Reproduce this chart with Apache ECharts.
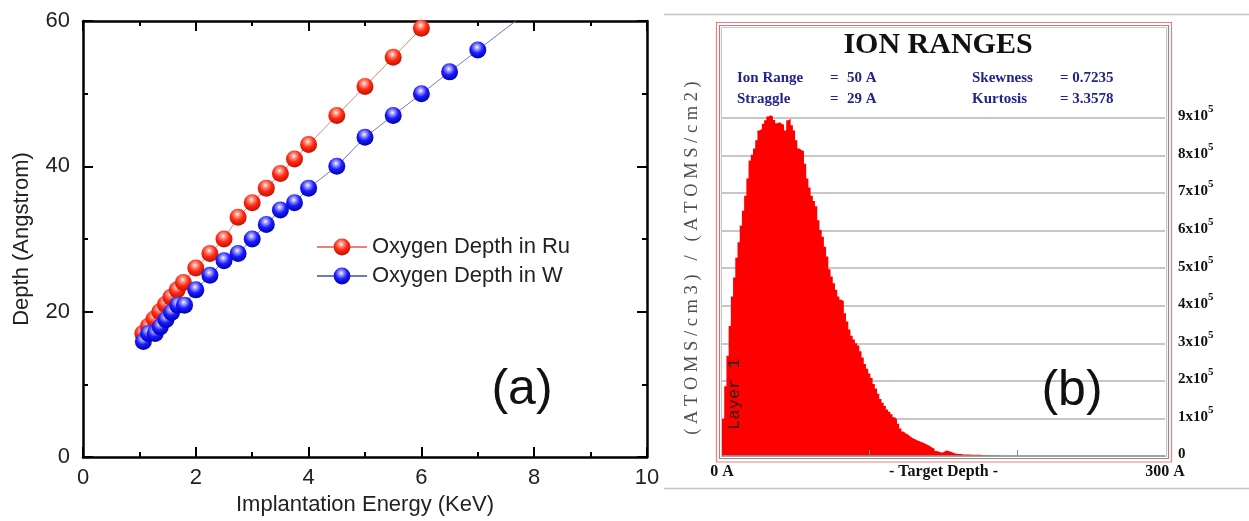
<!DOCTYPE html>
<html>
<head>
<meta charset="utf-8">
<script src="https://cdn.jsdelivr.net/npm/echarts@6.0.0/dist/echarts.min.js"></script>
<style>
  html, body { margin: 0; padding: 0; background: #fff; }
  #chart { width: 1249px; height: 521px; }
</style>
</head>
<body>
<div id="chart"></div>
<script>
// panel (a): oxygen implantation depth vs energy
const energyRu = [1.06, 1.16, 1.26, 1.36, 1.46, 1.56, 1.67, 1.78, 2.0, 2.25, 2.5, 2.75, 3.0, 3.25, 3.5, 3.75, 4.0, 4.5, 5.0, 5.5, 6.0]
const depthRu = [17, 18, 19, 20, 21, 22, 23, 24, 26, 28, 30, 33, 35, 37, 39, 41, 43, 47, 51, 55, 59]
const energyW = [1.07, 1.16, 1.28, 1.37, 1.47, 1.57, 1.68, 1.8, 2.0, 2.25, 2.5, 2.75, 3.0, 3.25, 3.5, 3.75, 4.0, 4.5, 5.0, 5.5, 6.0, 6.5, 7.0]
const depthW = [15.9, 17, 17, 17.9, 18.9, 19.9, 20.9, 20.9, 23, 25, 27, 28, 30, 32, 34, 35, 37, 40, 44, 47, 50, 53, 56]
// the W line runs on past the last marker up to the frame
const lineEndW = [7.67, 60]

// panel (b): SRIM ion range histogram, in units of 1e5 (atoms/cm3)/(atoms/cm2)
const binWidth = 1.5 // angstrom
const ionCounts = [
  0.99, 1.86, 2.67, 3.46, 4.25, 4.75, 5.28, 5.69, 6.14, 6.53,
  6.93, 7.39, 7.87, 8.02, 8.19, 8.41, 8.67, 8.71, 8.85, 8.94,
  9.04, 9.07, 9.04, 8.95, 8.86, 8.89, 8.85, 8.82, 8.67, 8.94,
  8.98, 8.81, 8.67, 8.41, 8.19, 8.14, 8.12, 7.78, 7.39, 7.15,
  6.93, 6.79, 6.65, 6.28, 6.02, 5.84, 5.57, 5.31, 4.97, 4.78,
  4.6, 4.43, 4.25, 4.16, 4.12, 3.8, 3.58, 3.37, 3.2, 3.1,
  3.0, 2.94, 2.79, 2.62, 2.45, 2.32, 2.2, 2.08, 1.92, 1.8,
  1.66, 1.52, 1.42, 1.33, 1.24, 1.18, 1.11, 1.03, 0.98, 0.86,
  0.73, 0.65, 0.6, 0.57, 0.52, 0.48, 0.45, 0.42, 0.4, 0.37,
  0.35, 0.32, 0.29, 0.26, 0.22, 0.19, 0.13, 0.11, 0.09, 0.1,
  0.14, 0.14, 0.12, 0.1, 0.07, 0.06, 0.05, 0.05, 0.04, 0.04,
  0.04, 0.04, 0.03, 0.03, 0.03, 0.03, 0.03, 0.02, 0.02, 0.02,
  0.01, 0.01, 0.01, 0.01, 0.01, 0.01
]
const depthLabels = {0: '0 A', 150: '- Target Depth -', 300: '300 A'}
const stats = [
  ['Ion Range', '=', '50 A', 'Skewness', '= 0.7235'],
  ['Straggle', '=', '29 A', 'Kurtosis', '= 3.3578']
]

const SANS = "'Liberation Sans', Arial, sans-serif"
const SERIF = "'Liberation Serif', 'Times New Roman', serif"

const sphere = (light, mid, dark) => ({
  type: 'radial', x: 0.45, y: 0.33, r: 0.65,
  colorStops: [
    {offset: 0, color: '#ffffff'},
    {offset: 0.2, color: light},
    {offset: 0.55, color: mid},
    {offset: 1, color: dark}
  ]
})

const ruData = energyRu.map((e, i) => [e, depthRu[i]])
const wData = energyW.map((e, i) => [e, depthW[i]])
wData.push({value: lineEndW, symbol: 'none'})

const histData = ionCounts.map((v, i) => [i * binWidth, v])
histData.push([ionCounts.length * binWidth, 0])

const boxAxis = (extra) => Object.assign({
  type: 'value',
  axisLine: {show: true, onZero: false, lineStyle: {color: '#000', width: 2.5}},
  axisTick: {show: true, inside: true, length: 10, lineStyle: {color: '#000', width: 2}},
  minorTick: {show: true, splitNumber: 2, length: 5, lineStyle: {color: '#000', width: 2}},
  splitLine: {show: false},
  axisLabel: {show: false}
}, extra)

const chart = echarts.init(document.getElementById('chart'))

chart.setOption({
  animation: false,
  backgroundColor: '#fff',
  grid: [
    {left: 83, top: 21, width: 564, height: 436},
    {left: 722, top: 118, width: 443, height: 338}
  ],
  xAxis: [
    boxAxis({
      gridIndex: 0, position: 'bottom', min: 0, max: 10, interval: 2,
      axisLabel: {show: true, margin: 10, fontFamily: SANS, fontSize: 22, color: '#222'},
      name: 'Implantation Energy (KeV)', nameLocation: 'middle', nameGap: 37,
      nameTextStyle: {fontFamily: SANS, fontSize: 22, color: '#222'}
    }),
    boxAxis({gridIndex: 0, position: 'top', min: 0, max: 10, interval: 2}),
    {
      type: 'value', gridIndex: 1, position: 'bottom', min: 0, max: 300, z: 5,
      axisLine: {show: true, lineStyle: {color: '#9a9a9a', width: 1.5}},
      axisTick: {show: true, inside: true, length: 6, customValues: [100, 200], lineStyle: {color: '#888', width: 1}},
      axisLabel: {
        show: true, margin: 8, customValues: [0, 150, 300],
        formatter: v => depthLabels[v] || '',
        fontFamily: SERIF, fontWeight: 'bold', fontSize: 16, color: '#111'
      },
      splitLine: {show: false}
    }
  ],
  yAxis: [
    boxAxis({
      gridIndex: 0, position: 'left', min: 0, max: 60, interval: 20,
      axisLabel: {show: true, margin: 13, fontFamily: SANS, fontSize: 22, color: '#222'},
      name: 'Depth (Angstrom)', nameLocation: 'middle', nameGap: 50, nameRotate: 90,
      nameTextStyle: {fontFamily: SANS, fontSize: 22, color: '#222'}
    }),
    boxAxis({gridIndex: 0, position: 'right', min: 0, max: 60, interval: 20}),
    {
      type: 'value', gridIndex: 1, position: 'right', min: 0, max: 9, interval: 1,
      axisLine: {show: false},
      axisTick: {show: false},
      splitLine: {show: true, lineStyle: {color: '#b4b4b4', width: 1.5}},
      axisLabel: {
        show: true, margin: 13, padding: [0, 0, 8, 0],
        formatter: v => v === 0 ? '{b|0}' : '{b|' + v + 'x10}{s|5}',
        rich: {
          b: {fontFamily: SERIF, fontWeight: 'bold', fontSize: 15, color: '#111', lineHeight: 20, verticalAlign: 'bottom'},
          s: {fontFamily: SERIF, fontWeight: 'bold', fontSize: 11, color: '#111', lineHeight: 20, verticalAlign: 'top'}
        }
      }
    }
  ],
  legend: {
    left: 311, top: 231, orient: 'vertical',
    itemWidth: 50, itemHeight: 21, itemGap: 7,
    data: ['Oxygen Depth in Ru', 'Oxygen Depth in W'],
    textStyle: {fontFamily: SANS, fontSize: 22, color: '#222', lineHeight: 22}
  },
  series: [
    {
      name: 'Oxygen Depth in Ru', type: 'line', xAxisIndex: 0, yAxisIndex: 0,
      data: ruData, symbol: 'circle', symbolSize: 17,
      lineStyle: {color: '#e8837c', width: 1},
      itemStyle: {color: sphere('#ff9c8c', '#ff2a14', '#c81000')}
    },
    {
      name: 'Oxygen Depth in W', type: 'line', xAxisIndex: 0, yAxisIndex: 0,
      data: wData, symbol: 'circle', symbolSize: 17,
      lineStyle: {color: '#6f78c8', width: 1},
      itemStyle: {color: sphere('#a0a0ff', '#1c1cff', '#0000b8')}
    },
    {
      name: 'ion ranges', type: 'line', xAxisIndex: 2, yAxisIndex: 2,
      data: histData, step: 'end', symbol: 'none', clip: false,
      lineStyle: {width: 0},
      areaStyle: {color: '#ff0000', opacity: 1}
    }
  ],
  graphic: [
    {type: 'line', shape: {x1: 664, y1: 14.5, x2: 1249, y2: 14.5}, style: {stroke: '#c4c4c4', lineWidth: 1.5}},
    {type: 'line', shape: {x1: 664, y1: 488.5, x2: 1249, y2: 488.5}, style: {stroke: '#c4c4c4', lineWidth: 1.5}},
    {type: 'rect', shape: {x: 716.5, y: 22.5, width: 455, height: 439.5}, style: {fill: 'none', stroke: '#f47c7c', lineWidth: 1.2}},
    {type: 'rect', shape: {x: 719.5, y: 25.5, width: 449, height: 433}, style: {fill: 'none', stroke: '#8c8c8c', lineWidth: 1.2}},
    {type: 'rect', shape: {x: 721.5, y: 27.5, width: 445, height: 429}, style: {fill: 'none', stroke: '#c8c8c8', lineWidth: 1}},
    {type: 'text', x: 938, y: 45, style: {text: 'ION RANGES', font: 'bold 30px ' + SERIF, fill: '#111', align: 'center', verticalAlign: 'middle'}},
    ...stats.flatMap((row, r) => [737, 830, 847, 972, 1060].map((x, c) => ({
      type: 'text', x: x, y: 78 + r * 21,
      style: {text: row[c], font: 'bold 15px ' + SERIF, fill: '#23238e', align: 'left', verticalAlign: 'middle'}
    }))),
    {type: 'text', x: 692, y: 258, rotation: Math.PI / 2,
      style: {text: '( A T O M S / c m 3 )   /   ( A T O M S / c m 2 )', font: '18.5px ' + SERIF, fill: '#505050', align: 'center', verticalAlign: 'middle'}},
    {type: 'text', x: 734, y: 394, rotation: Math.PI / 2, z: 10,
      style: {text: 'Layer 1', font: '17px "Liberation Mono", monospace', fill: '#222', align: 'center', verticalAlign: 'middle'}},
    {type: 'text', x: 522, y: 390, style: {text: '(a)', font: '50px ' + SANS, fill: '#111', align: 'center', verticalAlign: 'middle'}},
    {type: 'text', x: 1072, y: 391, z: 10, style: {text: '(b)', font: '50px ' + SANS, fill: '#111', align: 'center', verticalAlign: 'middle'}}
  ]
})
</script>
</body>
</html>
